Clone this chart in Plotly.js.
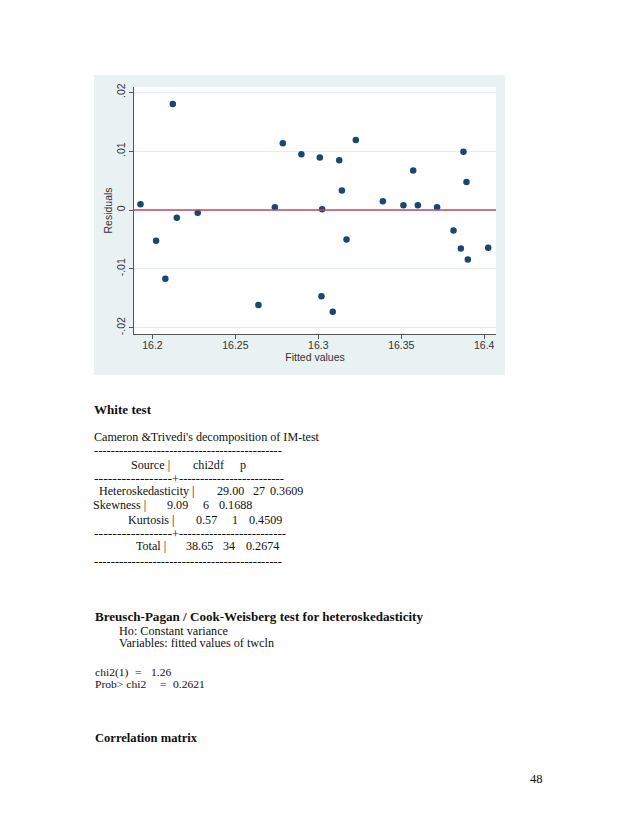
<!DOCTYPE html>
<html>
<head>
<meta charset="utf-8">
<script src="https://cdn.plot.ly/plotly-3.0.1.min.js"></script>
<style>
  html, body { margin:0; padding:0; background:#ffffff; }
  body { width:638px; height:826px; position:relative; overflow:hidden; }
  #chart { position:absolute; left:94px; top:75px; width:411px; height:300px; }
  .t { position:absolute; white-space:pre; font-family:"Liberation Serif","DejaVu Serif",serif; color:#111; line-height:1; transform-origin:0 50%; }
  .b { font-weight:bold; }
</style>
</head>
<body>
<div id="chart"></div>
<div id="doc"></div>
<script>
// ---- chart data ----
const fittedValues = [16.1928,16.2022,16.2078,16.2123,16.2147,16.2273,16.2639,16.2738,16.2786,16.2898,
                      16.3009,16.3019,16.3023,16.3087,16.3126,16.3142,16.3170,16.3226,16.3389,16.3513,
                      16.3572,16.3600,16.3716,16.3815,16.3859,16.3875,16.3893,16.3901,16.4024];
const residuals    = [0.00097,-0.00523,-0.0117,0.0180,-0.00131,-0.00045,-0.01614,0.00045,0.01136,0.00949,
                      0.00892,-0.01466,0.00011,-0.01727,0.00847,0.0033,-0.005,0.01188,0.00148,0.0008,
                      0.0067,0.0008,0.00045,-0.00347,-0.00653,0.00989,0.00477,-0.00841,-0.00642];
const xTickVals  = [16.2, 16.25, 16.3, 16.35, 16.4];
const xTickText  = ["16.2", "16.25", "16.3", "16.35", "16.4"];
const yTickVals  = [-0.02, -0.01, 0, 0.01, 0.02];
const yTickText  = ["-.02", "-.01", "0", ".01", ".02"];
const refLineY   = 0;
const xRange = [16.1889, 16.4071];
const yRange = [-0.02107, 0.0209];

const tickFont = {family:"Liberation Sans, Arial, sans-serif", size:10.5, color:"#333"};

Plotly.newPlot("chart", [{
  type:"scatter", mode:"markers",
  x: fittedValues, y: residuals,
  marker:{color:"#1a476f", size:6.5, line:{width:0}},
  hoverinfo:"skip"
}], {
  width:411, height:300,
  paper_bgcolor:"#eaf1f3", plot_bgcolor:"#ffffff",
  margin:{l:40, r:9, t:12, b:41},
  showlegend:false,
  xaxis:{
    range:xRange, tickvals:xTickVals, ticktext:xTickText,
    showgrid:false, zeroline:false, showline:true, linecolor:"#555", linewidth:1,
    ticks:"outside", ticklen:4, tickcolor:"#555", tickfont:tickFont, ticklabelstandoff:-3,
    title:{text:"Fitted values", font:tickFont, standoff:0}
  },
  yaxis:{
    range:yRange, tickvals:yTickVals, ticktext:yTickText, tickangle:-90,
    showgrid:true, gridcolor:"#e4ecef", gridwidth:1, zeroline:false,
    showline:true, linecolor:"#555", linewidth:1,
    ticks:"outside", ticklen:4, tickcolor:"#555", tickfont:tickFont,
    title:{text:"Residuals", font:tickFont, standoff:0}
  },
  shapes:[{type:"line", xref:"paper", x0:0, x1:1, yref:"y", y0:refLineY, y1:refLineY,
           line:{color:"#c4495f", width:1.4}}]
}, {displayModeBar:false, staticPlot:true});

// ---- document text: [text, left x, vertical centre y, right edge (fitted lines only), size, bold] ----
const D = "---------------------------------------------";
const docText = [
  ["White test", 94, 410, 151, 13, true],
  ["Cameron &Trivedi's decomposition of IM-test", 94, 438, 319, 11.5, false],
  [D, 94, 451, 282, 11.5, false],
  ["Source |", 131, 466, null, 11.5, false],
  ["chi2df", 193, 466, null, 11.5, false],
  ["p", 240, 466, null, 11.5, false],
  ["-----------------", 94, 479, 172, 11.5, false],
  ["+", 172, 480, null, 11.5, false],
  ["-------------------------", 179, 479, 284, 11.5, false],
  ["Heteroskedasticity |", 99, 492, null, 11.5, false],
  ["29.00", 217, 492, null, 11.5, false],
  ["27", 253, 492, null, 11.5, false],
  ["0.3609", 270, 492, null, 11.5, false],
  ["Skewness |", 93, 506, null, 11.5, false],
  ["9.09", 167, 506, null, 11.5, false],
  ["6", 203, 506, null, 11.5, false],
  ["0.1688", 219, 506, null, 11.5, false],
  ["Kurtosis |", 128, 521, null, 11.5, false],
  ["0.57", 196, 521, null, 11.5, false],
  ["1", 232, 521, null, 11.5, false],
  ["0.4509", 249, 521, null, 11.5, false],
  ["-----------------", 94, 534, 172, 11.5, false],
  ["+", 172, 535, null, 11.5, false],
  ["-------------------------", 179, 534, 286, 11.5, false],
  ["Total |", 136, 547, null, 11.5, false],
  ["38.65", 186, 547, null, 11.5, false],
  ["34", 223, 547, null, 11.5, false],
  ["0.2674", 246, 547, null, 11.5, false],
  [D, 94, 562, 282, 11.5, false],
  ["Breusch-Pagan / Cook-Weisberg test for heteroskedasticity", 95, 617, 423, 13, true],
  ["Ho: Constant variance", 119, 632, 228, 11.5, false],
  ["Variables: fitted values of twcln", 119, 644, 274, 11.5, false],
  ["chi2(1)", 95, 673, null, 11, false],
  ["=", 135, 673, null, 11, false],
  ["1.26", 151, 673, null, 11, false],
  ["Prob> chi2", 95, 685, null, 11, false],
  ["=", 160, 685, null, 11, false],
  ["0.2621", 173, 685, null, 11, false],
  ["Correlation matrix", 95, 738, 197, 13, true],
  ["48", 530, 780, null, 12, false]
];
const doc = document.getElementById("doc");
const defaultScale = {regular: null, bold: null};
const spans = docText.map(([txt, x, cy, right, size, bold]) => {
  const s = document.createElement("span");
  s.className = "t" + (bold ? " b" : "");
  s.textContent = txt;
  s.style.fontSize = size + "px";
  s.style.left = x + "px";
  s.style.top = (cy - 0.55 * size) + "px";
  doc.appendChild(s);
  return s;
});
// first pass: fit lines to their measured extent, remember typical scale per style
docText.forEach(([txt, x, cy, right, size, bold], i) => {
  if (right === null) return;
  const w = spans[i].getBoundingClientRect().width;
  if (w > 0) {
    const k = (right - x) / w;
    spans[i].style.transform = "scaleX(" + k.toFixed(4) + ")";
    const key = bold ? "bold" : "regular";
    if (!txt.startsWith("-") && defaultScale[key] === null) defaultScale[key] = k;
  }
});
// second pass: other tokens take the typical scale of their style
docText.forEach(([txt, x, cy, right, size, bold], i) => {
  if (right !== null) return;
  const k = defaultScale[bold ? "bold" : "regular"] || 1;
  spans[i].style.transform = "scaleX(" + k.toFixed(4) + ")";
});
</script>
</body>
</html>
